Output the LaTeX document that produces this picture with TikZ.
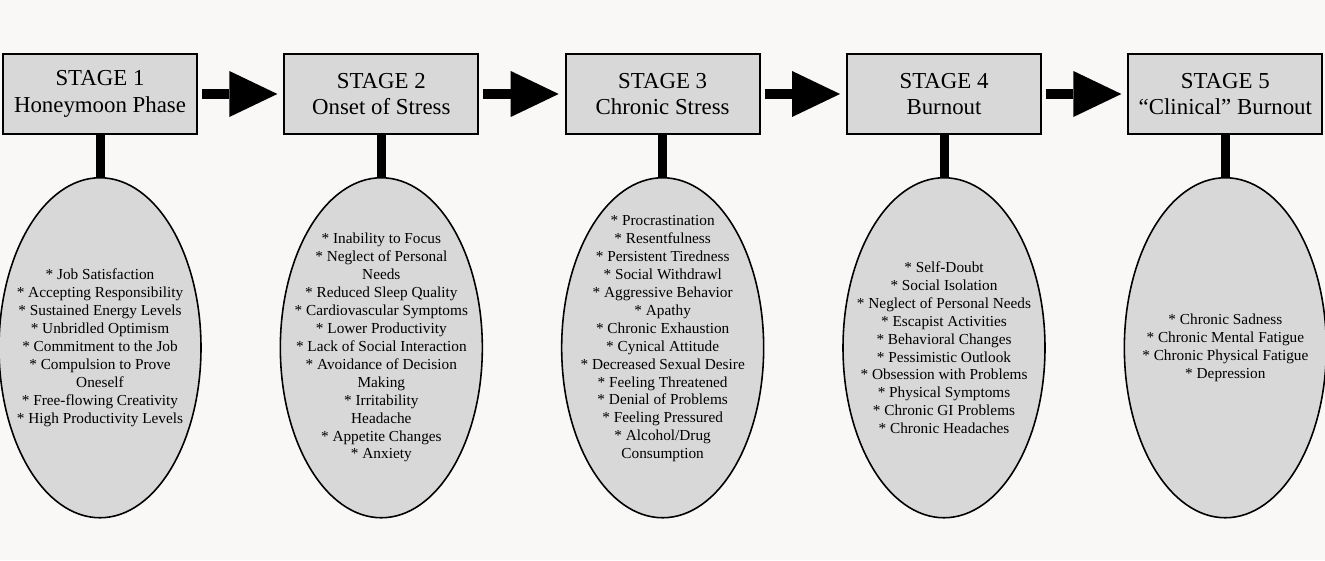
\documentclass[tikz,border=0pt]{standalone}
\usepackage{fontspec}
\setmainfont{Liberation Serif}
\usetikzlibrary{positioning,shapes.geometric,arrows.meta}
\definecolor{paper}{RGB}{250,247,247}
\definecolor{boxgray}{RGB}{216,216,216}
\tikzset{
  stagebox/.style={draw=black, fill=boxgray, line width=1.1pt, minimum width=3.88cm,
    minimum height=1.6cm, inner sep=0pt, align=center, font=\fontsize{13}{15.3}\selectfont},
  symbox/.style={ellipse, draw=black, fill=boxgray, line width=0.9pt, minimum width=4.04cm,
    minimum height=6.8cm, inner sep=0pt},
  symlist/.style={align=center, inner sep=0pt, font=\fontsize{8.7}{10.2}\selectfont},
  stem/.style={line width=0.18cm, black},
  flow/.style={line width=0.2cm, black, shorten <=0.08cm, shorten >=0.12cm,
    -{Triangle[length=0.96cm, width=0.92cm, line width=0pt]}}
}
\begin{document}
\begin{tikzpicture}
\fill[paper] (0,0) rectangle (26.5,11.2);
\useasboundingbox (0,0) rectangle (26.5,11.2);
%Stage I
\node[stagebox] (s1) at (2.0,9.32) {STAGE 1\\Honeymoon Phase};
\node[symbox, below=0.84cm of s1, label={[symlist]center:{* Job Satisfaction\\* Accepting Responsibility\\* Sustained Energy Levels\\* Unbridled Optimism\\* Commitment to the Job\\* Compulsion to Prove\\Oneself\\* Free-flowing Creativity\\* High Productivity Levels}}] (e1) {};
%Stage II
\node[stagebox, right=1.708cm of s1] (s2) {STAGE 2\\Onset of Stress};
\node[symbox, below=0.84cm of s2, label={[symlist]center:{* Inability to Focus\\* Neglect of Personal\\Needs\\* Reduced Sleep Quality\\* Cardiovascular Symptoms\\* Lower Productivity\\* Lack of Social Interaction\\* Avoidance of Decision\\Making\\* Irritability\\Headache\\* Appetite Changes\\* Anxiety}}] (e2) {};
%Stage III
\node[stagebox, right=1.708cm of s2] (s3) {STAGE 3\\Chronic Stress};
\node[symbox, below=0.84cm of s3, label={[symlist, yshift=0.18cm]center:{* Procrastination\\* Resentfulness\\* Persistent Tiredness\\* Social Withdrawl\\* Aggressive Behavior\\* Apathy\\* Chronic Exhaustion\\* Cynical Attitude\\* Decreased Sexual Desire\\* Feeling Threatened\\* Denial of Problems\\* Feeling Pressured\\* Alcohol/Drug\\Consumption}}] (e3) {};
%Stage IV
\node[stagebox, right=1.708cm of s3] (s4) {STAGE 4\\Burnout};
\node[symbox, below=0.84cm of s4, label={[symlist]center:{* Self-Doubt\\* Social Isolation\\* Neglect of Personal Needs\\* Escapist Activities\\* Behavioral Changes\\* Pessimistic Outlook\\* Obsession with Problems\\* Physical Symptoms\\* Chronic GI Problems\\* Chronic Headaches}}] (e4) {};
%Stage V
\node[stagebox, right=1.708cm of s4] (s5) {STAGE 5\\“Clinical” Burnout};
\node[symbox, below=0.84cm of s5, label={[symlist]center:{* Chronic Sadness\\* Chronic Mental Fatigue\\* Chronic Physical Fatigue\\* Depression}}] (e5) {};
%stems and arrows
\foreach \i in {1,...,5}
  \draw[stem] (s\i.south) -- (e\i.north);
\draw[flow] (s1) -- (s2);
\draw[flow] (s2) -- (s3);
\draw[flow] (s3) -- (s4);
\draw[flow] (s4) -- (s5);
\end{tikzpicture}
\end{document}
